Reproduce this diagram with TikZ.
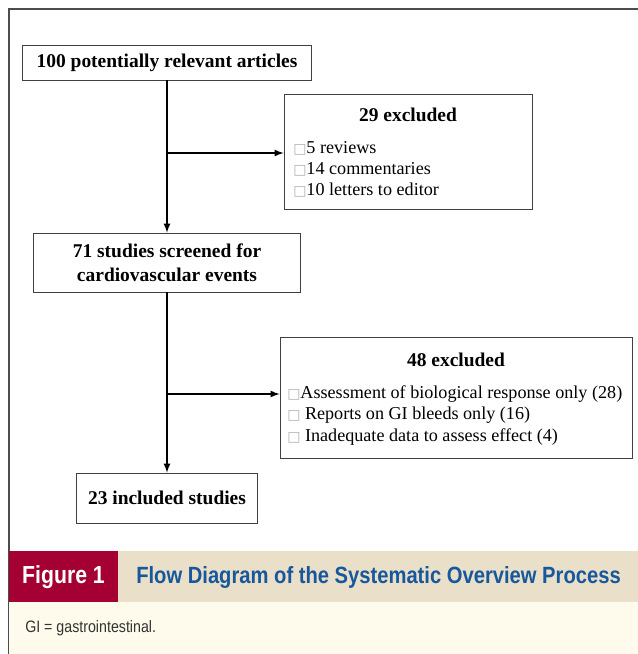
\documentclass[tikz,border=0pt]{standalone}
\usepackage{xcolor}
\usepackage{fontspec}
\setmainfont{Liberation Serif}
\newfontfamily\capfont[FakeStretch=0.86]{Liberation Sans}
\newfontfamily\boxsym{DejaVu Sans}
\definecolor{figred}{RGB}{165,0,52}
\definecolor{capbeige}{RGB}{234,223,201}
\definecolor{notecream}{RGB}{254,251,236}
\definecolor{capblue}{RGB}{22,88,155}
\newcommand{\tick}{{\boxsym\color{gray!60}\fontsize{10.5}{10}\selectfont □}}

\begin{document}
\begin{tikzpicture}[x=0.75pt,y=0.75pt,yscale=-1,xscale=1,
  stage/.style={draw=black!75,line width=0.6pt,fill=white,inner sep=0pt},
  flow/.style={draw,line width=1.3pt,-latex},
  boxtxt/.style={inner sep=0.75pt,font=\fontsize{14.6}{18}\selectfont},
  listtxt/.style={inner sep=0.75pt,anchor=west,align=left,font=\fontsize{13.6}{15.9}\selectfont}]
\useasboundingbox (0,0) rectangle (638,654);

%Shape: Frame
\draw [black!70,line width=0.8pt] (638,9) -- (9,9) -- (9,654) ;
%Shape: Caption bar
\fill [figred] (9,551) rectangle (118,602) ;
\fill [capbeige] (118,551) rectangle (638,602) ;
\fill [notecream] (9,602) rectangle (638,654) ;

%Shape: Rectangle [articles]
\node (articles) at (167,62.5) [stage,minimum width=216.75pt,minimum height=26.25pt] {};
%Shape: Rectangle [excluded first]
\node (exclA) at (408,151.5) [stage,minimum width=186pt,minimum height=86.25pt] {};
%Shape: Rectangle [screened]
\node (screened) at (167,262.5) [stage,minimum width=200.25pt,minimum height=44.25pt] {};
%Shape: Rectangle [excluded second]
\node (exclB) at (456,397.5) [stage,minimum width=264pt,minimum height=90.75pt] {};
%Shape: Rectangle [included]
\node (included) at (167,498) [stage,minimum width=135.75pt,minimum height=37.5pt] {};

%Straight Lines
\coordinate (branchA) at (167,153) ;
\coordinate (branchB) at (167,394) ;
\draw [flow] (articles.south) -- (screened.north) ;
\draw [flow] (branchA) -- (exclA.west |- branchA) ;
\draw [flow] (screened.south) -- (included.north) ;
\draw [flow] (branchB) -- (exclB.west |- branchB) ;

% Text Node
\node (articlesTxt) at (articles.center) [boxtxt] {\textbf{100 potentially relevant articles}};
% Text Node
\node (exclATitle) at (408,115) [boxtxt] {\textbf{29 excluded}};
% Text Node
\node (exclAList) at (292,169) [listtxt,font=\fontsize{13.6}{15.75}\selectfont] {\tick5 reviews\\\tick14 commentaries\\\tick10 letters to editor};
% Text Node
\node (screenedTxt) at (screened.center) [boxtxt,align=center] {\textbf{71 studies screened for}\\\textbf{cardiovascular events}};
% Text Node
\node (exclBTitle) at (456,360) [boxtxt] {\textbf{48 excluded}};
% Text Node
\node (exclBList) at (286,415.5) [listtxt,font=\fontsize{13.6}{16.1}\selectfont] {\tick Assessment of biological response only (28)\\\tick\ Reports on GI bleeds only (16)\\\tick\ Inadequate data to assess effect (4)};
% Text Node
\node (includedTxt) at (included.center) [boxtxt] {\textbf{23 included studies}};

% Text Node
\node (figLabel) at (63.5,577) [inner sep=0.75pt,text=white,font=\capfont\bfseries\fontsize{18.5}{20}\selectfont] {Figure 1};
% Text Node
\node (figTitle) at (135,577) [anchor=west,inner sep=0.75pt,text=capblue,font=\capfont\bfseries\fontsize{17.6}{20}\selectfont] {Flow Diagram of the Systematic Overview Process};
% Text Node
\node (figNote) at (24,628) [anchor=west,inner sep=0.75pt,text=black!80,font=\capfont\fontsize{12.4}{14}\selectfont] {GI = gastrointestinal.};

\end{tikzpicture}
\end{document}
